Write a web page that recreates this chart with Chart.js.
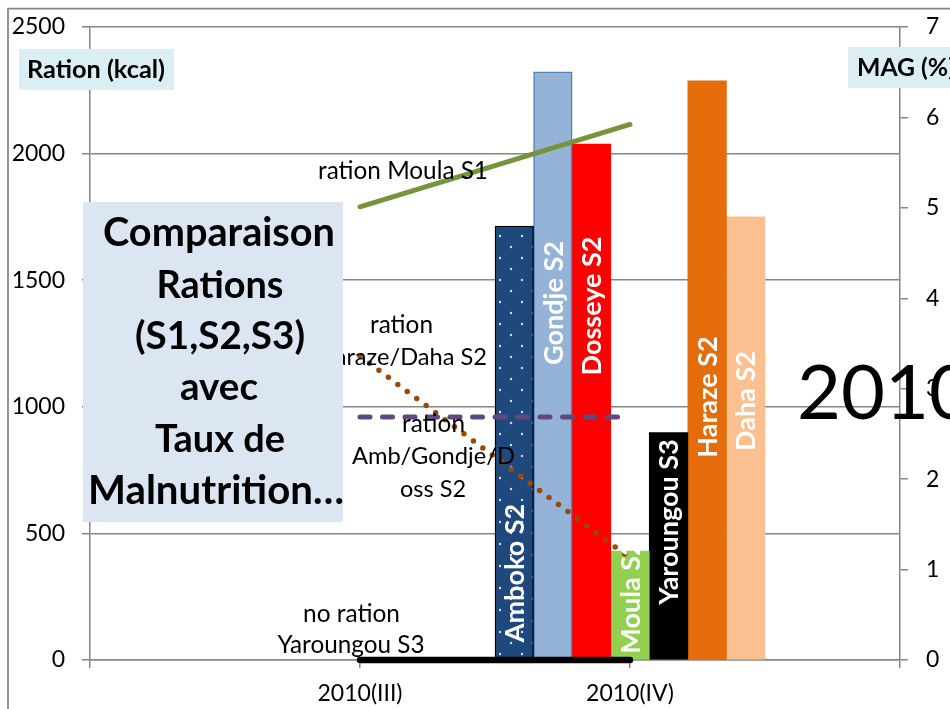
<!DOCTYPE html>
<html><head><meta charset="utf-8">
<script src="https://cdn.jsdelivr.net/npm/chart.js@4.4.0/dist/chart.umd.min.js"></script>
<style>html,body{margin:0;padding:0;background:#fff;overflow:hidden}</style>
</head><body>
<canvas id="c" width="950" height="709"></canvas>
<script>
// ---- data ----
const categories = ['', '2010(III)', '2010(IV)', ''];
const barNames = ['Amboko S2', 'Gondje S2', 'Dosseye S2', 'Moula S2', 'Yaroungou S3', 'Haraze S2', 'Daha S2'];
const barRations = [1714, 2323, 2038, 430, 898, 2287, 1750];
const rationMoulaS1 = [null, 1790, 2115, null];
const rationHarazeDahaS2 = [null, 1200, 403, null];
const rationAmbGondjeDossS2 = [null, 960, 960, null];
const noRationYaroungouS3 = [null, 0, 0, null];
const rationTicks = [0, 500, 1000, 1500, 2000, 2500];
const magTicks = [0, 1, 2, 3, 4, 5, 6, 7];
const barIndex = categories.indexOf('2010(IV)');

const FONT = 'Lato, "Open Sans", sans-serif';
const GRAY = '#868686';

function dotPattern() {
  const c = document.createElement('canvas');
  c.width = 22; c.height = 22;
  const g = c.getContext('2d');
  g.fillStyle = '#1F497D'; g.fillRect(0, 0, 22, 22);
  g.fillStyle = 'rgba(225,232,242,0.95)';
  [[5, 5], [16, 16]].forEach(p => { g.beginPath(); g.arc(p[0], p[1], 1.2, 0, Math.PI * 2); g.fill(); });
  return document.getElementById('c').getContext('2d').createPattern(c, 'repeat');
}

const barFill = [dotPattern(), '#95B3D7', '#FF0000', '#92D050', '#000000', '#E46C0A', '#FAC090'];
const barBorder = ['#000000', '#4F81BD', null, null, null, null, null];

const barDatasets = barNames.map((name, i) => ({
  type: 'bar', label: name, order: 2,
  data: categories.map((_, k) => k === barIndex ? barRations[i] : null),
  backgroundColor: barFill[i],
  borderColor: barBorder[i] || barFill[i],
  borderWidth: barBorder[i] ? 1.5 : 0,
  borderSkipped: 'bottom',
  barPercentage: 1, categoryPercentage: 1
}));

const lineBase = { type: 'line', order: 0, pointRadius: 0, tension: 0, fill: false, clip: false, spanGaps: false };
const lineDatasets = [
  Object.assign({}, lineBase, { label: 'ration Moula S1', data: rationMoulaS1, borderColor: '#77933C', borderWidth: 5, borderCapStyle: 'round' }),
  Object.assign({}, lineBase, { label: 'ration Amb/Gondje/Doss S2', data: rationAmbGondjeDossS2, borderColor: '#604A7B', borderWidth: 5, borderDash: [10, 12.5], borderCapStyle: 'round' }),
  Object.assign({}, lineBase, { label: 'ration Haraze/Daha S2', data: rationHarazeDahaS2, borderColor: '#984807', borderWidth: 5.5, borderDash: [0, 11.8], borderCapStyle: 'round' }),
  Object.assign({}, lineBase, { label: 'no ration Yaroungou S3', data: noRationYaroungouS3, borderColor: '#000000', borderWidth: 6.5, borderCapStyle: 'round' })
];

function fitText(ctx, text, x, y, width, weight, align) {
  ctx.font = weight + ' 100px ' + FONT;
  const w = ctx.measureText(text).width;
  const size = 100 * width / w;
  ctx.font = weight + ' ' + size + 'px ' + FONT;
  ctx.textAlign = align || 'center';
  ctx.textBaseline = 'alphabetic';
  ctx.fillText(text, x, y);
}

const barLabelCenters = [573, 303, 306, 597, 522, 397, 401];
const notes = [
  { t: 'ration Moula S1', x: 403, y: 179, w: 170 },
  { t: 'ration', x: 401.5, y: 333, w: 63 },
  { t: 'Haraze/Daha S2', x: 402, y: 365, w: 170 },
  { t: 'ration', x: 433.5, y: 432, w: 63 },
  { t: 'Amb/Gondje/D', x: 433.5, y: 464, w: 163 },
  { t: 'oss S2', x: 433, y: 497, w: 66 },
  { t: 'no ration', x: 351.5, y: 622, w: 97 },
  { t: 'Yaroungou S3', x: 351, y: 653, w: 147 }
];
const titleLines = [
  { t: 'Comparaison', y: 246, w: 232, x: 219 },
  { t: 'Rations', y: 298, w: 127, x: 220 },
  { t: '(S1,S2,S3)', y: 349, w: 170, x: 220 },
  { t: 'avec', y: 400, w: 78, x: 219 },
  { t: 'Taux de', y: 452, w: 130, x: 220 },
  { t: 'Malnutrition\u2026', y: 504, w: 256, x: 216 }
];

const decor = {
  id: 'decor',
  afterDatasetsDraw(chart) {
    const ctx = chart.ctx;
    ctx.save();
    // bar labels
    ctx.fillStyle = '#FFFFFF';
    ctx.font = 'bold 27px ' + FONT;
    barNames.forEach((name, i) => {
      const el = chart.getDatasetMeta(lineDatasets.length + i).data[barIndex];
      ctx.save();
      ctx.translate(el.x, barLabelCenters[i]);
      ctx.rotate(-Math.PI / 2);
      ctx.textAlign = 'center'; ctx.textBaseline = 'alphabetic';
      ctx.fillText(name, 0, 9.7);
      ctx.restore();
    });
    // annotations
    ctx.fillStyle = '#000';
    notes.forEach(n => fitText(ctx, n.t, n.x, n.y, n.w, 'normal'));
    ctx.restore();
  },
  afterDraw(chart) {
    const ctx = chart.ctx;
    ctx.save();
    // outer frame
    ctx.strokeStyle = GRAY; ctx.lineWidth = 1.75;
    ctx.beginPath(); ctx.moveTo(8, 720); ctx.lineTo(8, 8.5); ctx.lineTo(960, 8.5); ctx.stroke();
    // title box
    ctx.fillStyle = '#DCE6F2';
    ctx.fillRect(83, 202, 260, 320);
    ctx.fillStyle = '#000';
    titleLines.forEach(l => fitText(ctx, l.t, l.x, l.y, l.w, 'bold'));
    // axis title boxes
    ctx.fillStyle = '#DBEEF4';
    ctx.fillRect(19, 49, 155, 41);
    ctx.fillRect(848, 47, 110, 41);
    ctx.fillStyle = '#000';
    fitText(ctx, 'Ration (kcal)', 96, 77.5, 138, 'bold');
    fitText(ctx, 'MAG (%)', 857, 76, 98, 'bold', 'left');
    // big year
    fitText(ctx, '2010', 797, 419, 176, 'normal', 'left');
    ctx.restore();
  }
};

const tickFont = { family: FONT, size: 23 };
const plainNumber = v => String(v);
function fixVertical(width) {
  return s => { s.width = width; s.paddingTop = 0; s.paddingBottom = 0; };
}

new Chart(document.getElementById('c'), {
  type: 'bar',
  data: { labels: categories, datasets: lineDatasets.concat(barDatasets) },
  options: {
    responsive: false, animation: false, devicePixelRatio: 1,
    layout: { autoPadding: false, padding: { top: 27, left: 0, right: 0, bottom: 0 } },
    plugins: { legend: { display: false }, tooltip: { enabled: false } },
    scales: {
      x: {
        type: 'category', offset: false,
        grid: { offset: false, drawOnChartArea: false, drawTicks: true, tickLength: 8, color: GRAY, lineWidth: 1.5 },
        border: { display: true, color: GRAY, width: 1.5 },
        ticks: { font: tickFont, color: '#000', padding: 12, maxRotation: 0, autoSkip: false },
        afterFit(s) { s.height = 49; s.paddingLeft = 0; s.paddingRight = 0; }
      },
      y: {
        position: 'left', min: 0, max: 2500,
        grid: { color: GRAY, lineWidth: 1.5, tickLength: 8 },
        border: { display: true, color: GRAY, width: 1.5 },
        ticks: { font: tickFont, color: '#000', padding: 17, callback: plainNumber },
        afterBuildTicks(s) { s.ticks = rationTicks.map(v => ({ value: v })); },
        afterFit: fixVertical(90)
      },
      y2: {
        position: 'right', min: 0, max: 7,
        grid: { drawOnChartArea: false, tickLength: 8, color: GRAY, lineWidth: 1.5 },
        border: { display: true, color: GRAY, width: 1.5 },
        ticks: { font: tickFont, color: '#000', padding: 18, callback: plainNumber },
        afterBuildTicks(s) { s.ticks = magTicks.map(v => ({ value: v })); },
        afterFit: fixVertical(50)
      }
    }
  },
  plugins: [decor]
});
</script>
</body></html>
